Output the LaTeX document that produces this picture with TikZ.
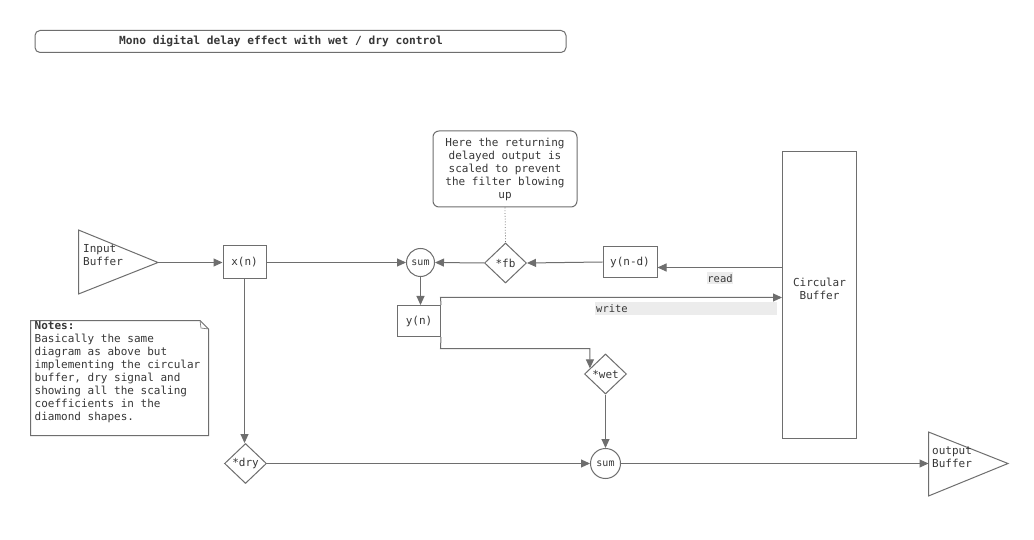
\documentclass[tikz,border=0pt]{standalone}
\usepackage{fontspec}
\setmonofont{DejaVu Sans Mono}
\usetikzlibrary{shapes.geometric,arrows.meta}
\definecolor{ln}{RGB}{110,110,110}
\definecolor{tx}{RGB}{55,55,55}
\definecolor{lbg}{RGB}{236,236,236}
\begin{document}
\begin{tikzpicture}[x=1pt,y=-1pt,
  every node/.style={font=\ttfamily\fontsize{11}{13}\selectfont, text=tx},
  box/.style={draw=ln, line width=1pt, fill=white, inner sep=0pt},
  rbox/.style={box, rectangle},
  sumc/.style={box, circle, minimum size=#1, font=\ttfamily\fontsize{10}{12}\selectfont},
  gain/.style={box, diamond, minimum width=42pt, minimum height=40pt},
  arr/.style={draw=ln, line width=1pt, -{Triangle[length=9pt,width=8pt]}},
  lbl/.style={fill=lbg, inner sep=0pt, font=\ttfamily\fontsize{10.5}{12}\selectfont}
]
\useasboundingbox[fill=white] (0,0) rectangle (1034,540);

% title
\node[draw=ln, line width=1pt, rounded corners=5pt, minimum width=531pt, minimum height=22pt, inner sep=0pt]
  (title) at (300.5,41.5) {};
\node[inner sep=0pt, font=\ttfamily\bfseries\fontsize{11.2}{13}\selectfont] (titletext) at (281,41.5) {Mono digital delay effect with wet / dry control};

% input buffer
\coordinate (in1) at (78.5,230);
\coordinate (in2) at (78.5,294);
\coordinate (inb) at (158,262.5);
\draw[draw=ln, line width=1pt] (in1) -- (inb) -- (in2) -- cycle;
\node[anchor=west, align=left, inner sep=0pt] (intext) at (83,255.5) {Input\\Buffer};

% output buffer
\coordinate (ob1) at (928.5,432);
\coordinate (ob2) at (928.5,496);
\coordinate (obt) at (1008,463.5);
\coordinate (ob) at (928.5,463.5);
\draw[draw=ln, line width=1pt] (ob1) -- (obt) -- (ob2) -- cycle;
\node[anchor=west, align=left, inner sep=0pt] (outtext) at (932,457) {output\\Buffer};

% nodes
\node[rbox, minimum width=43pt, minimum height=33pt] (xn) at (244.5,262.5) {x(n)};
\node[sumc=28pt] (sum1) at (420.5,262.5) {sum};
\node[gain] (fb) at (505.5,263) {*fb};
\node[rbox, minimum width=54pt, minimum height=31pt] (yd) at (630,262) {y(n-d)};
\node[rbox, minimum width=74pt, minimum height=286pt] (cb) at (819.5,295) {};
\node[align=center, inner sep=0pt] (cbtext) at (819.5,288.5) {Circular\\Buffer};
\node[rbox, minimum width=43pt, minimum height=31pt] (yn) at (419,321) {y(n)};
\node[gain] (wet) at (605.5,374) {*wet};
\node[sumc=30pt] (sum2) at (605.5,463.5) {sum};
\node[gain] (dry) at (245.5,463.5) {*dry};

% callout
\node[draw=ln, line width=1pt, rounded corners=6pt, minimum width=144pt, minimum height=76pt, align=center, inner sep=0pt]
  (note) at (505,169) {Here the returning\\delayed output is\\scaled to prevent\\the filter blowing\\up};
\draw[ln, line width=0.8pt, dotted] (note.south) -- (fb.north);

% notes box
\draw[draw=ln, line width=1pt, fill=white] (30.5,320.5) -- (200,320.5) -- (208.5,329) -- (208.5,435.5) -- (30.5,435.5) -- cycle;
\draw[draw=ln, line width=0.6pt] (200,320.5) -- (201,328) -- (208.5,329);
\node[anchor=north west, align=left, inner sep=0pt] (notes) at (34.5,321)
  {\textbf{Notes:}\\Basically the same\\diagram as above but\\implementing the circular\\buffer, dry signal and\\showing all the scaling\\coefficients in the\\diamond shapes.};

% connectors
\draw[arr] (inb) -- (xn.west);
\draw[arr] (xn.east) -- (sum1.west);
\draw[arr] (fb.west) -- (sum1.east);
\draw[arr] (yd.west) -- (fb.east);
\coordinate (rd) at ([yshift=-5.5pt]yd.east);
\draw[arr] (cb.west |- rd) -- (rd);
\draw[arr] (sum1.south) -- (sum1.south |- yn.north);
\coordinate (w1) at (440.5,297.5);
\draw[arr] (yn.north east) -- (w1) -- (w1 -| cb.west);
\coordinate (w2) at (440.5,348.5);
\draw[arr] (yn.south east) -- (w2) -| (wet.160);
\draw[arr] (wet.south) -- (sum2.north);
\draw[arr] (xn.south) -- (xn.south |- dry.north);
\draw[arr] (dry.east) -- (sum2.west);
\draw[arr] (sum2.east) -- (ob);

% labels
\node[lbl, minimum width=26pt, minimum height=12pt] (rdl) at (720,278.5) {read};
\fill[lbg] (595,302) rectangle (777,315);
\node[anchor=west, inner sep=0pt, font=\ttfamily\fontsize{10.5}{12}\selectfont] (wrl) at (596,308.5) {write};
\end{tikzpicture}
\end{document}
